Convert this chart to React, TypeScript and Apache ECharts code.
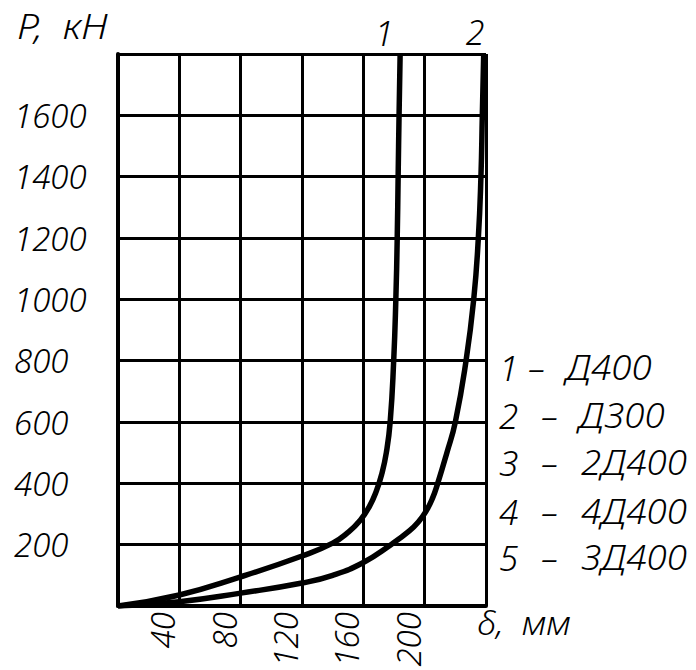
import React, { useEffect, useRef } from "react";
import * as echarts from "echarts";

const xTicks = [0, 40, 80, 120, 160, 200, 240];
const yTicks = [0, 200, 400, 600, 800, 1000, 1200, 1400, 1600, 1800];

const curve1X = [0, 40, 80, 120, 140, 150, 158, 164, 168.5, 172, 175, 177.5, 179.8, 181.2, 182.1, 182.7, 183.3, 184];
const curve1P = [0, 36, 95, 163, 205, 240, 280, 325, 375, 430, 500, 600, 800, 1000, 1200, 1400, 1600, 1800];

const curve2X = [0, 40, 80, 120, 140, 160, 178, 190, 196, 201, 205, 208.5, 214.5, 220, 227, 232, 235, 236.7, 237.6, 238.5];
const curve2P = [0, 14, 42, 75, 100, 142, 200, 245, 275, 310, 350, 400, 500, 600, 800, 1000, 1200, 1400, 1600, 1800];

const legendNums = ["1", "2", "3", "4", "5"];
const legendNames = ["Д400", "Д300", "2Д400", "4Д400", "3Д400"];
const curveNames = ["1", "2"];

const FONT = "'Noto Sans', 'Liberation Sans', sans-serif";
const WEIGHT = 300;

export default function App() {
  const ref = useRef<HTMLDivElement>(null);
  useEffect(() => {
    if (!ref.current) return;
    const chart = echarts.init(ref.current, undefined, { renderer: "svg" });
    const pair = (xs: number[], ys: number[]) => xs.map((x, i) => [x, ys[i]]);
    const textStyle = (size: number) => ({
      fill: "#000",
      fontSize: size,
      fontStyle: "italic",
      fontWeight: WEIGHT,
      fontFamily: FONT,
    });
    const legendY = [367, 415, 462, 511, 557];
    const legendDashX = [528, 541, 541, 541, 541];
    const legendNameX = [566, 579, 581, 581, 581];
    chart.setOption({
      animation: false,
      backgroundColor: "#fff",
      grid: { left: 118, right: 210, top: 54, bottom: 64, containLabel: false },
      xAxis: {
        type: "value",
        min: xTicks[0],
        max: xTicks[xTicks.length - 1],
        interval: 40,
        axisLine: { show: true, lineStyle: { color: "#000", width: 4 } },
        axisTick: { show: false },
        splitLine: { show: true, showMinLine: false, showMaxLine: true, lineStyle: { color: "#000", width: 3 } },
        axisLabel: {
          rotate: 90,
          margin: 6,
          verticalAlign: "bottom",
          color: "#000",
          fontSize: 33,
          fontStyle: "italic",
          fontWeight: WEIGHT,
          fontFamily: FONT,
          formatter: (v: number) => (v === 0 || v === 240 ? "" : String(v)),
        },
      },
      yAxis: {
        type: "value",
        min: yTicks[0],
        max: yTicks[yTicks.length - 1],
        interval: 200,
        axisLine: { show: true, lineStyle: { color: "#000", width: 4 } },
        axisTick: { show: false },
        splitLine: { show: true, showMinLine: false, showMaxLine: true, lineStyle: { color: "#000", width: 3 } },
        axisLabel: {
          align: "left",
          margin: 104,
          color: "#000",
          fontSize: 33,
          fontStyle: "italic",
          fontWeight: WEIGHT,
          fontFamily: FONT,
          formatter: (v: number) => (v === 0 || v === 1800 ? "" : String(v)),
        },
      },
      series: [
        {
          type: "line",
          data: pair(curve1X, curve1P),
          smooth: 0.5,
          showSymbol: false,
          lineStyle: { color: "#000", width: 5.5 },
        },
        {
          type: "line",
          data: pair(curve2X, curve2P),
          smooth: 0.5,
          showSymbol: false,
          lineStyle: { color: "#000", width: 5.5 },
        },
      ],
      graphic: [
        { type: "text", x: 17, y: 9, scaleX: 1.15, style: { ...textStyle(34), text: "P,  кН" } },
        { type: "text", x: 477, y: 606, scaleX: 1.05, style: { ...textStyle(33), text: "δ,  мм" } },
        { type: "text", x: 384, y: 33, style: { ...textStyle(34), text: curveNames[0], align: "center", verticalAlign: "middle" } },
        { type: "text", x: 475, y: 32, style: { ...textStyle(34), text: curveNames[1], align: "center", verticalAlign: "middle" } },
        ...legendNums.map((t, i) => ({
          type: "text",
          x: 499,
          y: legendY[i],
          style: { ...textStyle(35), text: t, verticalAlign: "middle" },
        })),
        ...legendNums.map((_, i) => ({
          type: "text",
          x: legendDashX[i],
          y: legendY[i],
          style: { ...textStyle(35), text: "–", verticalAlign: "middle" },
        })),
        ...legendNames.map((t, i) => ({
          type: "text",
          x: legendNameX[i],
          y: legendY[i],
          scaleX: 1.08,
          style: { ...textStyle(34), text: t, verticalAlign: "middle" },
        })),
      ],
    });
    return () => chart.dispose();
  }, []);
  return <div ref={ref} style={{ width: 696, height: 670, position: "absolute", left: 0, top: 0 }} />;
}
